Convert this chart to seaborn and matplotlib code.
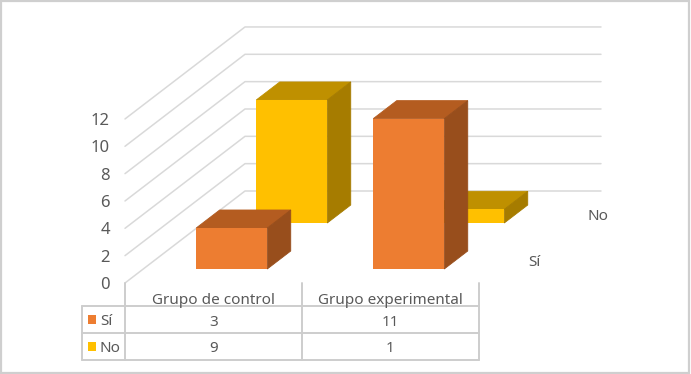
import pandas as pd
import matplotlib
matplotlib.use('Agg')
import matplotlib.pyplot as plt
from matplotlib.patches import Rectangle
import seaborn as sns

categorias = ['Grupo de control', 'Grupo experimental']
series = ['Sí', 'No']
valores_si = [3, 11]
valores_no = [9, 1]
ticks_y = [0, 2, 4, 6, 8, 10, 12]

# colores de cada serie: frente, tapa, lateral
colores = {
    'Sí': ('#ED7D31', '#B45C20', '#984E1C'),
    'No': ('#FFC000', '#BF9000', '#A67C00'),
}
TEXTO = '#595959'
REJILLA = '#D9D9D9'
TABLA = '#CDCDCD'

W, H = 691, 374
PX_CAT = 177.0     # pixeles por categoria
PX_VAL = 13.67     # pixeles por unidad del eje y
X0, Y0 = 125, 283  # origen del plano frontal
FONDO_X, FONDO_Y = 120, 92  # profundidad total del suelo
ANCHO_BAR = 71 / PX_CAT
PROF_BAR = 18 / FONDO_Y     # fraccion de la profundidad

sns.set_theme(style='white')
plt.rcParams['font.family'] = ['Noto Sans', 'DejaVu Sans']

fig = plt.figure(figsize=(W / 100, H / 100), dpi=100, facecolor='white')
ax = fig.add_axes([0, 0, 1, 1])
ax.set_axis_off()


def prof(d):
    # desplazamiento oblicuo (x, y) para una profundidad d entre 0 y 1
    return d * FONDO_X / PX_CAT, d * FONDO_Y / PX_VAL


# rejilla: pared del fondo y lateral
fx, fy = prof(1)
xini = -0.5
xfin = xini + fx + 356 / PX_CAT
for v in ticks_y:
    ax.plot([xini, xini + fx, xfin], [v, v + fy, v + fy], color=REJILLA, lw=1.1, zorder=1)

df = pd.DataFrame({
    'categoria': categorias * 2,
    'pos': [0, 1, 0, 1],
    'serie': [series[0]] * 2 + [series[1]] * 2,
    'valor': valores_si + valores_no,
})

# primero la serie del fondo, para que la de delante la tape
for i, serie in reversed(list(enumerate(series))):
    d_ini = (i + 0.5) / 2 - PROF_BAR / 2
    dx, dy = prof(d_ini)
    tx, ty = prof(PROF_BAR)
    sub = df[df['serie'] == serie].copy()
    sub['x'] = sub['pos'] + dx
    frente, tapa, lateral = colores[serie]
    z = 5 + (1 - i) * 5
    sns.barplot(data=sub, x='x', y='valor', native_scale=True, width=ANCHO_BAR,
                color=frente, saturation=1, bottom=dy, ax=ax, zorder=z + 1,
                errorbar=None, linewidth=0)
    for _, fila in sub.iterrows():
        izq = fila['x'] - ANCHO_BAR / 2
        der = fila['x'] + ANCHO_BAR / 2
        arriba = dy + fila['valor']
        ax.fill([izq, izq + tx, der + tx, der], [arriba, arriba + ty, arriba + ty, arriba],
                color=tapa, lw=0.6, zorder=z)
        ax.fill([der, der + tx, der + tx, der], [dy, dy + ty, arriba + ty, arriba],
                color=lateral, lw=0.6, zorder=z)
    # etiqueta de la serie en el eje de profundidad
    cx, cy = prof((i + 0.5) / 2)
    ax.annotate(serie, xy=(xini + cx + 356 / PX_CAT, cy), xytext=(i * 4 + 23, 0),
                textcoords='offset pixels', ha='center', va='center_baseline',
                color=TEXTO, fontsize=11)

ax.set_xlim(-0.5 - X0 / PX_CAT, -0.5 + (W - X0) / PX_CAT)
ax.set_ylim(-(H - Y0) / PX_VAL, Y0 / PX_VAL)
ax.set_axis_off()

for v in ticks_y:
    ax.annotate(str(v), xy=(xini, v), xytext=(-15, 0), textcoords='offset pixels',
                ha='right', va='center_baseline', color=TEXTO, fontsize=12)

# tabla de datos y marco, en pixeles de la figura
cap = fig.add_axes([0, 0, 1, 1], facecolor='none')
cap.set_xlim(0, W)
cap.set_ylim(H, 0)
cap.set_axis_off()

x_cols = [82, 125, 302, 479]
y_filas = [283, 306, 333, 360]
for x in x_cols[1:]:
    cap.plot([x, x], [y_filas[0], y_filas[-1]], color=TABLA, lw=1.4)
cap.plot([x_cols[0], x_cols[0]], [y_filas[1], y_filas[-1]], color=TABLA, lw=1.4)
for y in y_filas[1:]:
    cap.plot([x_cols[0], x_cols[-1]], [y, y], color=TABLA, lw=1.4)

for j, cat in enumerate(categorias):
    xc = (x_cols[j + 1] + x_cols[j + 2]) / 2
    cap.text(xc, 298, cat, ha='center', va='center_baseline', color=TEXTO, fontsize=11)
    cap.text(xc, 320, str(valores_si[j]), ha='center', va='center_baseline', color=TEXTO, fontsize=11)
    cap.text(xc, 346.5, str(valores_no[j]), ha='center', va='center_baseline', color=TEXTO, fontsize=11)

for serie, yc in zip(series, [319.5, 346.5]):
    cap.add_patch(Rectangle((88, yc - 4.5), 8, 9, color=colores[serie][0], lw=0))
    cap.text(100, yc, serie, ha='left', va='center_baseline', color=TEXTO, fontsize=11)

cap.add_patch(Rectangle((1, 1), 688.5, 371.5, fill=False, ec='#CFCFCF', lw=1.6))

fig.savefig('out.png', dpi=100)
